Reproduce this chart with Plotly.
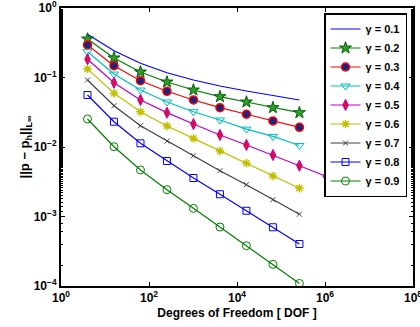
import plotly.graph_objects as go

dof = [4, 16, 64, 256, 1024, 4096, 16384, 65536, 262144, 1048576]

gamma_labels = ["γ = 0.1", "γ = 0.2", "γ = 0.3", "γ = 0.4", "γ = 0.5",
                "γ = 0.6", "γ = 0.7", "γ = 0.8", "γ = 0.9"]

err_01 = [0.42, 0.243, 0.16, 0.117, 0.092, 0.0755, 0.064, 0.0554, 0.0475]
err_02 = [0.358, 0.191, 0.12, 0.0861, 0.066, 0.053, 0.0444, 0.0368, 0.0312]
err_03 = [0.294, 0.148, 0.0899, 0.0633, 0.0475, 0.0368, 0.0296, 0.0237, 0.0192]
err_04 = [0.235, 0.112, 0.066, 0.0444, 0.0322, 0.0245, 0.0181, 0.0142, 0.0105]
err_05 = [0.183, 0.0842, 0.0475, 0.0312, 0.0214, 0.0149, 0.0107, 0.00767, 0.00538, 0.00379]
err_06 = [0.133, 0.0593, 0.0322, 0.0201, 0.0133, 0.00876, 0.00583, 0.00383, 0.00255]
err_07 = [0.092, 0.0393, 0.0202, 0.0122, 0.0075, 0.00456, 0.00287, 0.00175, 0.00108]
err_08 = [0.056, 0.0231, 0.0113, 0.00629, 0.00358, 0.00209, 0.00121, 0.0007, 0.000402]
err_09 = [0.0253, 0.0101, 0.00467, 0.00243, 0.00131, 0.000706, 0.00038, 0.000205, 0.000109]

series = [err_01, err_02, err_03, err_04, err_05, err_06, err_07, err_08, err_09]

styles = [
    dict(line="#0000FF", mode="lines", marker=None),
    dict(line="#008000", mode="lines+markers",
         marker=dict(symbol="star", size=9, color="#2E9E2E", line=dict(color="#006000", width=1))),
    dict(line="#FF0000", mode="lines+markers",
         marker=dict(symbol="circle", size=8, color="#1A237E", line=dict(color="#FF0000", width=1.5))),
    dict(line="#00BFBF", mode="lines+markers",
         marker=dict(symbol="triangle-down-open", size=8, color="#00BFBF", line=dict(width=1))),
    dict(line="#BF00BF", mode="lines+markers",
         marker=dict(symbol="diamond-tall", size=8, color="#E0103A", line=dict(color="#BF00BF", width=1))),
    dict(line="#BFBF00", mode="lines+markers",
         marker=dict(symbol="asterisk-open", size=7, color="#BFBF00", line=dict(color="#BFBF00", width=1.5))),
    dict(line="#404040", mode="lines+markers",
         marker=dict(symbol="x-thin-open", size=5, color="#404040", line=dict(color="#404040", width=1))),
    dict(line="#0000FF", mode="lines+markers",
         marker=dict(symbol="square-open", size=7, color="#0000FF", line=dict(width=1))),
    dict(line="#008000", mode="lines+markers",
         marker=dict(symbol="circle-open", size=8, color="#008000", line=dict(width=1))),
]

fig = go.Figure()
for lab, ys, st in zip(gamma_labels, series, styles):
    kw = dict(x=dof[:len(ys)], y=ys, name=lab, mode=st["mode"],
              line=dict(color=st["line"], width=1.2))
    if st["marker"] is not None:
        kw["marker"] = st["marker"]
    fig.add_trace(go.Scatter(**kw))

xt = [1, 100, 10000, 1000000, 100000000]
xt_text = ["10<sup>0</sup>", "10<sup>2</sup>", "10<sup>4</sup>", "10<sup>6</sup>", "10<sup>8</sup>"]
yt = [1e-4, 1e-3, 1e-2, 1e-1, 1]
yt_text = ["10<sup>−4</sup>", "10<sup>−3</sup>", "10<sup>−2</sup>", "10<sup>−1</sup>", "10<sup>0</sup>"]

font_family = "Liberation Sans, Arial, sans-serif"

fig.update_layout(
    width=420, height=327,
    margin=dict(l=61, r=7, t=8, b=41, autoexpand=False),
    paper_bgcolor="white", plot_bgcolor="white",
    font=dict(family=font_family, size=12, color="black"),
    showlegend=True,
    legend=dict(x=0.983, y=0.982, xanchor="right", yanchor="top",
                bgcolor="white", bordercolor="black", borderwidth=1.5,
                font=dict(size=11, family=font_family, weight="bold"),
                itemwidth=30, tracegroupgap=0),
)
fig.update_xaxes(type="log", range=[0, 8], tickvals=xt, ticktext=xt_text,
                 automargin=False, ticklabeloverflow="allow",
                 showline=True, linecolor="black", linewidth=2, mirror="ticks",
                 ticks="inside", ticklen=4, tickcolor="black",
                 showgrid=False, zeroline=False,
                 tickfont=dict(size=12, weight="bold"),
                 title=dict(text="<b>Degrees of Freedom [ DOF ]</b>", font=dict(size=12), standoff=4))
fig.update_yaxes(type="log", range=[-4, 0], tickvals=yt, ticktext=yt_text,
                 automargin=False, ticklabeloverflow="allow",
                 showline=True, linecolor="black", linewidth=2, mirror="ticks",
                 ticks="inside", ticklen=4, tickcolor="black",
                 minor=dict(ticks="inside", ticklen=2, tickcolor="black", showgrid=False),
                 showgrid=False, zeroline=False,
                 tickfont=dict(size=12, weight="bold"),
                 title=dict(text="<b>||p − p<sub>h</sub>||<sub>L∞</sub></b>", font=dict(size=13), standoff=1))

fig.write_html("out.html", config={"displayModeBar": False},
               post_script="document.body.style.margin='0';document.body.style.overflow='hidden';")
